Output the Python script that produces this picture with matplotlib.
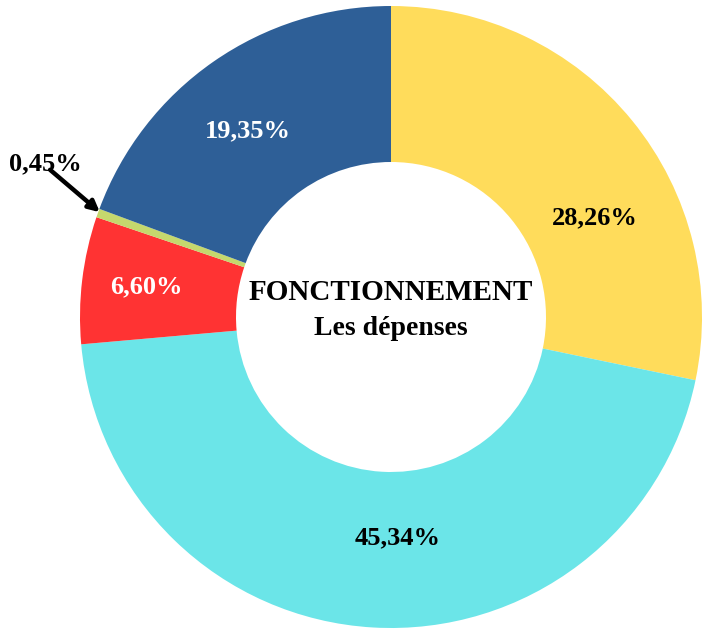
import matplotlib.pyplot as plt

# data
labels = ['28,26%', '45,34%', '6,60%', '0,45%', '19,35%']
values = [28.26, 45.34, 6.60, 0.45, 19.35]
colors = ['#FFDC5B', '#6BE5E8', '#FF3333', '#C5D86D', '#2E5F97']
text_colors = ['black', 'black', 'white', 'black', 'white']

# label placements (pixel-like coords around the centre)
label_pos = [(204, 99), (7, -221), (-245, 30), None, (-143, 186)]

width = 703
height = 629
dpi = 100
cx, cy = 391, 317
R = 311

fig = plt.figure(figsize=(width / dpi, height / dpi), dpi=dpi)
ax = fig.add_axes([0, 0, 1, 1])
ax.pie(values, colors=colors, startangle=90, counterclock=False, radius=R,
       wedgeprops=dict(width=156, linewidth=0))
ax.set_xlim(-cx, width - cx)
ax.set_ylim(-(height - cy), cy)
ax.set_aspect('equal')
ax.axis('off')

font = 'Liberation Serif'
for lab, pos, tc in zip(labels, label_pos, text_colors):
    if pos is None:
        continue
    ax.text(pos[0], pos[1], lab, ha='center', va='center', color=tc,
            fontsize=19, fontweight='bold', family=font)

# tiny slice gets an arrow
ax.annotate('', xy=(-289, 103), xytext=(-343, 149),
            arrowprops=dict(arrowstyle='-|>', color='black', lw=3.2,
                            mutation_scale=16))
ax.text(-346, 153, labels[3], ha='center', va='center', color='black',
        fontsize=19, fontweight='bold', family=font)

ax.text(0, 24, 'FONCTIONNEMENT', ha='center', va='center',
        fontsize=21, fontweight='bold', family=font)
ax.text(0, -12, 'Les dépenses', ha='center', va='center',
        fontsize=20, fontweight='bold', family=font)

fig.savefig('out.png', dpi=dpi)
